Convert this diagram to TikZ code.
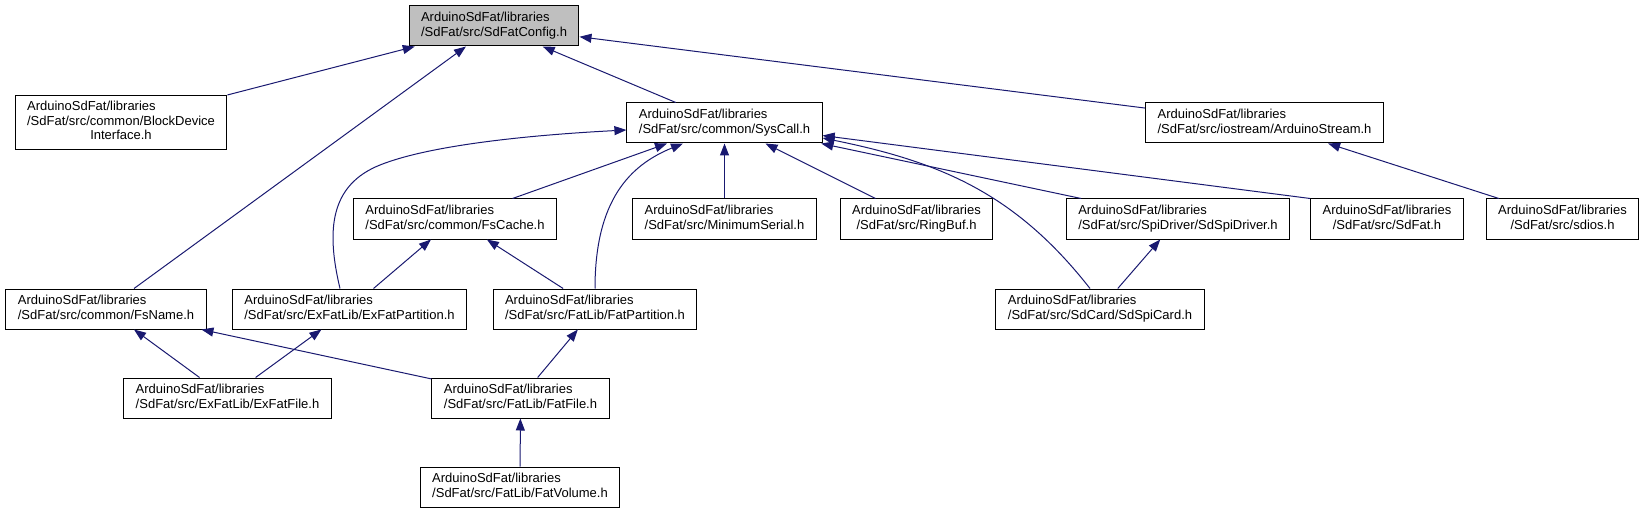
\documentclass[tikz,border=0pt]{standalone}
\usepackage{fontspec}
\setmainfont{Liberation Sans}
\usetikzlibrary{arrows.meta}
\definecolor{edgeblue}{RGB}{25,25,112}
\definecolor{cfggray}{RGB}{191,191,191}
\newcommand{\fpath}[2]{\begin{tabular}{@{}l@{}}#1\\\multicolumn{1}{@{}c@{}}{#2}\end{tabular}}

\begin{document}
\begin{tikzpicture}[x=1pt, y=1pt,
  font=\fontsize{13}{14.5}\selectfont,
  hdr/.style={draw=black, line width=1pt, inner xsep=12pt, inner ysep=5.5pt, fill=white},
  cur/.style={hdr, fill=cfggray},
  inc/.style={draw=edgeblue, line width=1pt, -{Triangle[length=12pt,width=9pt]}},
]
  \useasboundingbox (0,0) rectangle (1643,-513);

  \node[cur] (cfg) at (494,-26)     {\fpath{ArduinoSdFat/libraries}{/SdFat/src/SdFatConfig.h}};

  \node[hdr] (bdi) at (121,-122.5)  {\fpath{ArduinoSdFat/libraries\\/SdFat/src/common/BlockDevice}{Interface.h}};
  \node[hdr] (sys) at (724.5,-123)  {\fpath{ArduinoSdFat/libraries}{/SdFat/src/common/SysCall.h}};
  \node[hdr] (ast) at (1264.5,-123) {\fpath{ArduinoSdFat/libraries}{/SdFat/src/iostream/ArduinoStream.h}};

  \node[hdr] (fsc) at (455,-219)    {\fpath{ArduinoSdFat/libraries}{/SdFat/src/common/FsCache.h}};
  \node[hdr] (mins) at (724.5,-219) {\fpath{ArduinoSdFat/libraries}{/SdFat/src/MinimumSerial.h}};
  \node[hdr] (rbf) at (916.5,-219)  {\fpath{ArduinoSdFat/libraries}{/SdFat/src/RingBuf.h}};
  \node[hdr] (spd) at (1178,-219)   {\fpath{ArduinoSdFat/libraries}{/SdFat/src/SpiDriver/SdSpiDriver.h}};
  \node[hdr] (sdf) at (1387,-219)   {\fpath{ArduinoSdFat/libraries}{/SdFat/src/SdFat.h}};
  \node[hdr] (sdi) at (1562.5,-219) {\fpath{ArduinoSdFat/libraries}{/SdFat/src/sdios.h}};

  \node[hdr] (fsn) at (106,-309)    {\fpath{ArduinoSdFat/libraries}{/SdFat/src/common/FsName.h}};
  \node[hdr] (exp) at (349.5,-309)  {\fpath{ArduinoSdFat/libraries}{/SdFat/src/ExFatLib/ExFatPartition.h}};
  \node[hdr] (ftp) at (595,-309)    {\fpath{ArduinoSdFat/libraries}{/SdFat/src/FatLib/FatPartition.h}};
  \node[hdr] (ssc) at (1100,-309)   {\fpath{ArduinoSdFat/libraries}{/SdFat/src/SdCard/SdSpiCard.h}};

  \node[hdr] (exf) at (227.5,-398)  {\fpath{ArduinoSdFat/libraries}{/SdFat/src/ExFatLib/ExFatFile.h}};
  \node[hdr] (ftf) at (520.5,-398)  {\fpath{ArduinoSdFat/libraries}{/SdFat/src/FatLib/FatFile.h}};

  \node[hdr] (ftv) at (520,-487)    {\fpath{ArduinoSdFat/libraries}{/SdFat/src/FatLib/FatVolume.h}};

  \draw[inc] (bdi) -- (cfg);
  \draw[inc] (fsn) -- (cfg);
  \draw[inc] (sys) -- (cfg);
  \draw[inc] (ast) -- (cfg);

  \draw[inc] (fsc) -- (sys);
  \draw[inc] ([xshift=-9.5pt]exp.north) .. controls (326,-230) and (330,-185) .. (380,-165)
                                         .. controls (430,-145) and (530,-135) .. ([yshift=-7pt]sys.west);
  \draw[inc] (ftp.north) .. controls (595,-200) and (630,-165) .. ([xshift=-41.5pt]sys.south);
  \draw[inc] (mins) -- (sys);
  \draw[inc] (rbf) -- (sys);
  \draw[inc] (spd) -- (sys);
  \draw[inc] (sdf.north west) -- (sys);
  \draw[inc] ([xshift=-10pt]ssc.north) .. controls (1016,-194) and (941,-162) .. ([yshift=-15pt]sys.east);

  \draw[inc] (sdi) -- (ast);
  \draw[inc] (exp) -- (fsc);
  \draw[inc] (ftp) -- (fsc);
  \draw[inc] (ssc) -- (spd);

  \draw[inc] (exf) -- (fsn);
  \draw[inc] (exf) -- (exp);
  \draw[inc] (ftf) -- (fsn);
  \draw[inc] (ftf) -- (ftp);
  \draw[inc] (ftv) -- (ftf);
\end{tikzpicture}
\end{document}
